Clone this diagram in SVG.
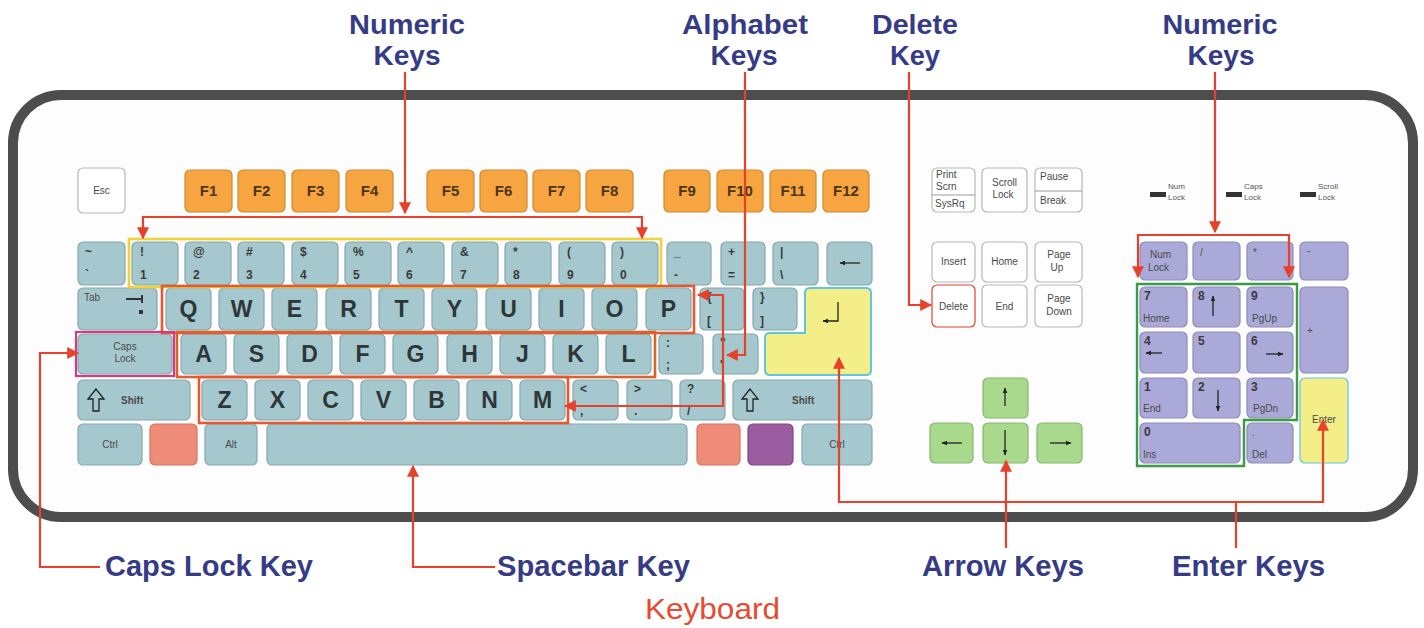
<svg xmlns="http://www.w3.org/2000/svg" width="1424" height="628" viewBox="0 0 1424 628">
<style>
text{font-family:"Liberation Sans",Arial,sans-serif}
rect.k{rx:5px;ry:5px;stroke-width:1.2}
.b{fill:#a4c8cd;stroke:#86a8ad}
.p{fill:#aba9d7;stroke:#8d8bb9}
.g{fill:#a8d98c;stroke:#86b86c}
.o{fill:#f6a540;stroke:#cf8a31}
.w{fill:#fff;stroke:#b8b8b8}
.L{font-size:23px;font-weight:700;fill:#2f3638;text-anchor:middle}
.F{font-size:15px;font-weight:700;fill:#4d3413;text-anchor:middle}
.s{font-size:10px;fill:#4a4a4a}
.sc{font-size:10px;fill:#4a4a4a;text-anchor:middle}
.y{font-size:12px;font-weight:700;fill:#3a3a3a}
.t{font-size:8px;fill:#555}
.lbl{font-size:27px;font-weight:700;fill:#363b86;text-anchor:middle}
.lbb{font-size:29px;font-weight:700;fill:#363b86}
.con{fill:none;stroke:#e5412b;stroke-width:2.2}
.ic{fill:none;stroke:#222;stroke-width:1.3}
</style>
<defs>
<marker id="ah" viewBox="0 0 10 10" refX="9" refY="5" markerUnits="userSpaceOnUse" markerWidth="12" markerHeight="12" orient="auto-start-reverse"><path d="M0,0 L10,5 L0,10 z" fill="#e5412b"/></marker>
<marker id="sa" viewBox="0 0 10 10" refX="9" refY="5" markerUnits="userSpaceOnUse" markerWidth="6" markerHeight="6" orient="auto"><path d="M0,1 L10,5 L0,9 z" fill="#222"/></marker>
</defs>
<rect width="1424" height="628" fill="#fff"/>
<g id="frame"><rect x="13" y="95" width="1400" height="422" rx="48" fill="#fdfdfe" stroke="#4d4d4d" stroke-width="10"/></g>

<g id="keys">
<g id="k-esc"><rect class="k w" x="78" y="168" width="47" height="45"/><text class="sc" x="101.5" y="194">Esc</text></g>
<g id="k-f1"><rect class="k o" x="185" y="170" width="47" height="42"/><text class="F" x="208.5" y="196">F1</text></g>
<g id="k-f2"><rect class="k o" x="238" y="170" width="47" height="42"/><text class="F" x="261.5" y="196">F2</text></g>
<g id="k-f3"><rect class="k o" x="292" y="170" width="47" height="42"/><text class="F" x="315.5" y="196">F3</text></g>
<g id="k-f4"><rect class="k o" x="346" y="170" width="47" height="42"/><text class="F" x="369.5" y="196">F4</text></g>
<g id="k-f5"><rect class="k o" x="427" y="170" width="47" height="42"/><text class="F" x="450.5" y="196">F5</text></g>
<g id="k-f6"><rect class="k o" x="480" y="170" width="47" height="42"/><text class="F" x="503.5" y="196">F6</text></g>
<g id="k-f7"><rect class="k o" x="533" y="170" width="47" height="42"/><text class="F" x="556.5" y="196">F7</text></g>
<g id="k-f8"><rect class="k o" x="586" y="170" width="47" height="42"/><text class="F" x="609.5" y="196">F8</text></g>
<g id="k-f9"><rect class="k o" x="664" y="170" width="46" height="42"/><text class="F" x="687" y="196">F9</text></g>
<g id="k-f10"><rect class="k o" x="717" y="170" width="46" height="42"/><text class="F" x="740" y="196">F10</text></g>
<g id="k-f11"><rect class="k o" x="770" y="170" width="46" height="42"/><text class="F" x="793" y="196">F11</text></g>
<g id="k-f12"><rect class="k o" x="823" y="170" width="46" height="42"/><text class="F" x="846" y="196">F12</text></g>

<g id="k-tilde"><rect class="k b" x="78" y="242" width="47" height="43"/><text class="y" x="85" y="256">~</text><text class="y" x="85" y="279">`</text></g>
<g id="k-1"><rect class="k b" x="132" y="242" width="46" height="43"/><text class="y" x="140" y="256">!</text><text class="y" x="140" y="279">1</text></g>
<g id="k-2"><rect class="k b" x="185" y="242" width="46" height="43"/><text class="y" x="193" y="256">@</text><text class="y" x="193" y="279">2</text></g>
<g id="k-3"><rect class="k b" x="238" y="242" width="46" height="43"/><text class="y" x="246" y="256">#</text><text class="y" x="246" y="279">3</text></g>
<g id="k-4"><rect class="k b" x="292" y="242" width="46" height="43"/><text class="y" x="300" y="256">$</text><text class="y" x="300" y="279">4</text></g>
<g id="k-5"><rect class="k b" x="345" y="242" width="46" height="43"/><text class="y" x="353" y="256">%</text><text class="y" x="353" y="279">5</text></g>
<g id="k-6"><rect class="k b" x="398" y="242" width="46" height="43"/><text class="y" x="406" y="256">^</text><text class="y" x="406" y="279">6</text></g>
<g id="k-7"><rect class="k b" x="452" y="242" width="46" height="43"/><text class="y" x="460" y="256">&amp;</text><text class="y" x="460" y="279">7</text></g>
<g id="k-8"><rect class="k b" x="505" y="242" width="46" height="43"/><text class="y" x="513" y="256">*</text><text class="y" x="513" y="279">8</text></g>
<g id="k-9"><rect class="k b" x="559" y="242" width="46" height="43"/><text class="y" x="567" y="256">(</text><text class="y" x="567" y="279">9</text></g>
<g id="k-0"><rect class="k b" x="612" y="242" width="46" height="43"/><text class="y" x="620" y="256">)</text><text class="y" x="620" y="279">0</text></g>
<g id="k-minus"><rect class="k b" x="667" y="242" width="44" height="43"/><text class="y" x="674" y="256">_</text><text class="y" x="674" y="279">-</text></g>
<g id="k-eq"><rect class="k b" x="721" y="242" width="44" height="43"/><text class="y" x="728" y="256">+</text><text class="y" x="728" y="279">=</text></g>
<g id="k-bsl"><rect class="k b" x="773" y="242" width="45" height="43"/><text class="y" x="780" y="256">|</text><text class="y" x="780" y="279">\</text></g>
<g id="k-bksp"><rect class="k b" x="827" y="242" width="45" height="43"/><path class="ic" d="M860,263 H840" stroke-width="1.6" marker-end="url(#sa)"/></g>

<g id="k-tab"><rect class="k b" x="78" y="288" width="79" height="42"/><text class="s" x="84" y="301">Tab</text><path d="M126,299 H142 M142,295 V303" stroke="#333" stroke-width="2" fill="none"/><rect x="139" y="310" width="4" height="4" fill="#333"/></g>
<g id="k-q"><rect class="k b" x="166" y="288" width="45" height="42"/><text class="L" x="188.5" y="317">Q</text></g>
<g id="k-w"><rect class="k b" x="219" y="288" width="45" height="42"/><text class="L" x="241.5" y="317">W</text></g>
<g id="k-e"><rect class="k b" x="272" y="288" width="45" height="42"/><text class="L" x="294.5" y="317">E</text></g>
<g id="k-r"><rect class="k b" x="326" y="288" width="45" height="42"/><text class="L" x="348.5" y="317">R</text></g>
<g id="k-t"><rect class="k b" x="379" y="288" width="45" height="42"/><text class="L" x="401.5" y="317">T</text></g>
<g id="k-y"><rect class="k b" x="432" y="288" width="45" height="42"/><text class="L" x="454.5" y="317">Y</text></g>
<g id="k-u"><rect class="k b" x="486" y="288" width="45" height="42"/><text class="L" x="508.5" y="317">U</text></g>
<g id="k-i"><rect class="k b" x="539" y="288" width="45" height="42"/><text class="L" x="561.5" y="317">I</text></g>
<g id="k-o"><rect class="k b" x="592" y="288" width="45" height="42"/><text class="L" x="614.5" y="317">O</text></g>
<g id="k-p"><rect class="k b" x="646" y="288" width="45" height="42"/><text class="L" x="668.5" y="317">P</text></g>
<g id="k-lbr"><rect class="k b" x="700" y="288" width="44" height="42"/><text class="y" x="707" y="301">{</text><text class="y" x="707" y="325">[</text></g>
<g id="k-rbr"><rect class="k b" x="753" y="288" width="44" height="42"/><text class="y" x="760" y="301">}</text><text class="y" x="760" y="325">]</text></g>
<g id="k-enter"><path d="M810,288 H866 Q871,288 871,293 V370 Q871,375 866,375 H770 Q765,375 765,370 V338 Q765,333 770,333 H805 V293 Q805,288 810,288 Z" fill="#f4ee88" stroke="#5ec6e2" stroke-width="2"/><path class="ic" d="M838,302 V321 H823" stroke-width="1.4" marker-end="url(#sa)"/></g>

<g id="k-caps"><rect class="k b" x="78" y="334" width="94" height="40"/><text class="sc" x="125" y="350">Caps</text><text class="sc" x="125" y="362">Lock</text></g>
<g id="k-a"><rect class="k b" x="181" y="334" width="45" height="40"/><text class="L" x="203.5" y="362">A</text></g>
<g id="k-s"><rect class="k b" x="234" y="334" width="45" height="40"/><text class="L" x="256.5" y="362">S</text></g>
<g id="k-d"><rect class="k b" x="287" y="334" width="45" height="40"/><text class="L" x="309.5" y="362">D</text></g>
<g id="k-f"><rect class="k b" x="340" y="334" width="45" height="40"/><text class="L" x="362.5" y="362">F</text></g>
<g id="k-g"><rect class="k b" x="393" y="334" width="45" height="40"/><text class="L" x="415.5" y="362">G</text></g>
<g id="k-h"><rect class="k b" x="447" y="334" width="45" height="40"/><text class="L" x="469.5" y="362">H</text></g>
<g id="k-j"><rect class="k b" x="500" y="334" width="45" height="40"/><text class="L" x="522.5" y="362">J</text></g>
<g id="k-k"><rect class="k b" x="553" y="334" width="45" height="40"/><text class="L" x="575.5" y="362">K</text></g>
<g id="k-l"><rect class="k b" x="606" y="334" width="45" height="40"/><text class="L" x="628.5" y="362">L</text></g>
<g id="k-semi"><rect class="k b" x="659" y="334" width="44" height="40"/><text class="y" x="666" y="347">:</text><text class="y" x="666" y="369">;</text></g>
<g id="k-quote"><rect class="k b" x="713" y="334" width="45" height="40"/><text class="y" x="720" y="347">"</text><text class="y" x="720" y="369">'</text></g>

<g id="k-lshift"><rect class="k b" x="78" y="380" width="112" height="40"/><path class="ic" d="M96,389 L88,399 L93,399 L93,411 L99,411 L99,399 L104,399 Z" stroke-width="1.6"/><text class="s" x="121" y="404" font-weight="700">Shift</text></g>
<g id="k-z"><rect class="k b" x="202" y="380" width="45" height="40"/><text class="L" x="224.5" y="408">Z</text></g>
<g id="k-x"><rect class="k b" x="255" y="380" width="45" height="40"/><text class="L" x="277.5" y="408">X</text></g>
<g id="k-c"><rect class="k b" x="308" y="380" width="45" height="40"/><text class="L" x="330.5" y="408">C</text></g>
<g id="k-v"><rect class="k b" x="361" y="380" width="45" height="40"/><text class="L" x="383.5" y="408">V</text></g>
<g id="k-b"><rect class="k b" x="414" y="380" width="45" height="40"/><text class="L" x="436.5" y="408">B</text></g>
<g id="k-n"><rect class="k b" x="467" y="380" width="45" height="40"/><text class="L" x="489.5" y="408">N</text></g>
<g id="k-m"><rect class="k b" x="520" y="380" width="45" height="40"/><text class="L" x="542.5" y="408">M</text></g>
<g id="k-comma"><rect class="k b" x="573" y="380" width="45" height="40"/><text class="y" x="580" y="393">&lt;</text><text class="y" x="580" y="415">,</text></g>
<g id="k-period"><rect class="k b" x="627" y="380" width="45" height="40"/><text class="y" x="634" y="393">&gt;</text><text class="y" x="634" y="415">.</text></g>
<g id="k-slash"><rect class="k b" x="680" y="380" width="45" height="40"/><text class="y" x="687" y="393">?</text><text class="y" x="687" y="415">/</text></g>
<g id="k-rshift"><rect class="k b" x="733" y="380" width="139" height="40"/><path class="ic" d="M750,389 L742,399 L747,399 L747,411 L753,411 L753,399 L758,399 Z" stroke-width="1.6"/><text class="s" x="792" y="404" font-weight="700">Shift</text></g>

<g id="k-lctrl"><rect class="k b" x="78" y="424" width="64" height="41"/><text class="sc" x="110" y="448">Ctrl</text></g>
<g id="k-lwin"><rect class="k" x="150" y="424" width="47" height="41" fill="#ef8b79" stroke="#d27463"/></g>
<g id="k-alt"><rect class="k b" x="205" y="424" width="52" height="41"/><text class="sc" x="231" y="448">Alt</text></g>
<g id="k-space"><rect class="k b" x="267" y="424" width="420" height="41"/></g>
<g id="k-rwin"><rect class="k" x="697" y="424" width="43" height="41" fill="#ef8b79" stroke="#d27463"/></g>
<g id="k-menu"><rect class="k" x="748" y="424" width="45" height="41" fill="#9b5d9f" stroke="#7f4883"/></g>
<g id="k-rctrl"><rect class="k b" x="802" y="424" width="70" height="41"/><text class="sc" x="837" y="448">Ctrl</text></g>

<g id="k-prt"><rect class="k w" x="932" y="168" width="43" height="44"/><text class="s" x="936" y="178">Print</text><text class="s" x="936" y="190">Scrn</text><line x1="932" y1="195" x2="975" y2="195" stroke="#999" stroke-width="1"/><text class="s" x="935" y="207">SysRq</text></g>
<g id="k-scroll"><rect class="k w" x="982" y="168" width="45" height="44"/><text class="sc" x="1004.5" y="186">Scroll</text><text class="sc" x="1003" y="198">Lock</text></g>
<g id="k-pause"><rect class="k w" x="1035" y="168" width="47" height="44"/><text class="s" x="1040" y="180">Pause</text><line x1="1035" y1="191" x2="1082" y2="191" stroke="#999" stroke-width="1"/><text class="s" x="1040" y="204">Break</text></g>
<g id="k-ins"><rect class="k w" x="932" y="242" width="43" height="40"/><text class="sc" x="953.5" y="265">Insert</text></g>
<g id="k-home"><rect class="k w" x="982" y="242" width="45" height="40"/><text class="sc" x="1004.5" y="265">Home</text></g>
<g id="k-pgup"><rect class="k w" x="1035" y="242" width="47" height="40"/><text class="sc" x="1059" y="258">Page</text><text class="sc" x="1057" y="271">Up</text></g>
<g id="k-del"><rect class="k" x="932" y="285" width="43" height="42" fill="#fff" stroke="#e5412b" stroke-width="2.2"/><text class="sc" x="953.5" y="310">Delete</text></g>
<g id="k-end"><rect class="k w" x="982" y="285" width="45" height="42"/><text class="sc" x="1004.5" y="310">End</text></g>
<g id="k-pgdn"><rect class="k w" x="1035" y="285" width="47" height="42"/><text class="sc" x="1059" y="302">Page</text><text class="sc" x="1059" y="315">Down</text></g>

<g id="k-up"><rect class="k g" x="983" y="378" width="45" height="40"/><path class="ic" d="M1005,406 V388" marker-end="url(#sa)"/></g>
<g id="k-left"><rect class="k g" x="930" y="423" width="43" height="40"/><path class="ic" d="M962,443 H942" marker-end="url(#sa)"/></g>
<g id="k-down"><rect class="k g" x="983" y="423" width="45" height="40"/><path class="ic" d="M1005,430 V455" marker-end="url(#sa)"/></g>
<g id="k-right"><rect class="k g" x="1037" y="423" width="45" height="40"/><path class="ic" d="M1050,443 H1071" marker-end="url(#sa)"/></g>

<g id="leds">
<rect x="1150" y="192" width="16" height="5" fill="#333"/><text class="t" x="1168" y="189">Num</text><text class="t" x="1168" y="200">Lock</text>
<rect x="1226" y="192" width="16" height="5" fill="#333"/><text class="t" x="1244" y="189">Caps</text><text class="t" x="1244" y="200">Lock</text>
<rect x="1300" y="192" width="16" height="5" fill="#333"/><text class="t" x="1318" y="189">Scroll</text><text class="t" x="1318" y="200">Lock</text>
</g>

<g id="k-numlock"><rect class="k p" x="1140" y="242" width="47" height="38"/><text class="s" x="1150" y="258">Num</text><text class="s" x="1148" y="271">Lock</text></g>
<g id="k-ndiv"><rect class="k p" x="1193" y="242" width="47" height="38"/><text class="s" x="1200" y="256">/</text></g>
<g id="k-nmul"><rect class="k p" x="1247" y="242" width="46" height="38"/><text class="s" x="1253" y="256">*</text></g>
<g id="k-nsub"><rect class="k p" x="1300" y="242" width="48" height="38"/><text class="s" x="1307" y="254">-</text></g>
<g id="k-n7"><rect class="k p" x="1140" y="287" width="47" height="40"/><text class="y" x="1144" y="300">7</text><text class="s" x="1143" y="322">Home</text></g>
<g id="k-n8"><rect class="k p" x="1193" y="287" width="47" height="40"/><text class="y" x="1198" y="300">8</text><path class="ic" d="M1213,316 V296" marker-end="url(#sa)"/></g>
<g id="k-n9"><rect class="k p" x="1247" y="287" width="46" height="40"/><text class="y" x="1251" y="300">9</text><text class="s" x="1252" y="322">PgUp</text></g>
<g id="k-nadd"><rect class="k p" x="1300" y="287" width="48" height="86"/><text class="s" x="1307" y="334">+</text></g>
<g id="k-n4"><rect class="k p" x="1140" y="332" width="47" height="41"/><text class="y" x="1144" y="345">4</text><path class="ic" d="M1162,353 H1146" marker-end="url(#sa)"/></g>
<g id="k-n5"><rect class="k p" x="1193" y="332" width="47" height="41"/><text class="y" x="1198" y="345">5</text></g>
<g id="k-n6"><rect class="k p" x="1247" y="332" width="46" height="41"/><text class="y" x="1251" y="345">6</text><path class="ic" d="M1266,354 H1283" marker-end="url(#sa)"/></g>
<g id="k-n1"><rect class="k p" x="1140" y="378" width="47" height="40"/><text class="y" x="1144" y="391">1</text><text class="s" x="1143" y="412">End</text></g>
<g id="k-n2"><rect class="k p" x="1193" y="378" width="47" height="40"/><text class="y" x="1198" y="391">2</text><path class="ic" d="M1218,390 V411" marker-end="url(#sa)"/></g>
<g id="k-n3"><rect class="k p" x="1247" y="378" width="46" height="40"/><text class="y" x="1251" y="391">3</text><text class="s" x="1253" y="412">PgDn</text></g>
<g id="k-nent"><rect class="k" x="1300" y="378" width="48" height="85" fill="#f4ee88" stroke="#5ec6e2" stroke-width="2.2"/><text class="sc" x="1324" y="423">Enter</text></g>
<g id="k-n0"><rect class="k p" x="1140" y="423" width="100" height="40"/><text class="y" x="1144" y="436">0</text><text class="s" x="1143" y="458">Ins</text></g>
<g id="k-ndot"><rect class="k p" x="1247" y="423" width="46" height="40"/><text class="s" x="1252" y="436">.</text><text class="s" x="1252" y="458">Del</text></g>
</g>

<g id="outlines" fill="none">
<rect x="129" y="239" width="532" height="48" stroke="#f1d338" stroke-width="2.6"/>
<rect x="162" y="286" width="532" height="47" stroke="#e35a31" stroke-width="2.6"/>
<rect x="177" y="332" width="478" height="45" stroke="#d9632e" stroke-width="2.6"/>
<rect x="199" y="377" width="369" height="46" stroke="#e35a31" stroke-width="2.6"/>
<rect x="76" y="332" width="98" height="44" stroke="#d63a7c" stroke-width="2.2"/>
<path d="M1137,284 H1297 V420 H1244 V466 H1137 Z" stroke="#3d9b45" stroke-width="2.4"/>
</g>

<g id="connectors">
<path class="con" d="M405,72 V213" marker-end="url(#ah)"/>
<path class="con" d="M143,238 V217 H642 V238" marker-start="url(#ah)" marker-end="url(#ah)"/>
<path class="con" d="M745,72 V355 H727" marker-end="url(#ah)"/>
<path class="con" d="M698,295 H723 V406 H565" marker-start="url(#ah)" marker-end="url(#ah)"/>
<path class="con" d="M909,72 V305 H931" marker-end="url(#ah)"/>
<path class="con" d="M1215,72 V232" marker-end="url(#ah)"/>
<path class="con" d="M1138,277 V235 H1289 V277" marker-start="url(#ah)" marker-end="url(#ah)"/>
<path class="con" d="M100,567 H40 V353 H78" marker-end="url(#ah)"/>
<path class="con" d="M495,567 H413 V466" marker-end="url(#ah)"/>
<path class="con" d="M1006,548 V461" marker-end="url(#ah)"/>
<path class="con" d="M1236,548 V502"/>
<path class="con" d="M839,358 V502 H1323 V420" marker-start="url(#ah)" marker-end="url(#ah)"/>
</g>

<g id="labels">
<g id="lbl-num1"><text class="lbl" x="407" y="34" textLength="116" lengthAdjust="spacingAndGlyphs">Numeric</text><text class="lbl" x="407" y="65" textLength="67" lengthAdjust="spacingAndGlyphs">Keys</text></g>
<g id="lbl-alpha"><text class="lbl" x="745" y="34" textLength="126" lengthAdjust="spacingAndGlyphs">Alphabet</text><text class="lbl" x="744" y="65" textLength="67" lengthAdjust="spacingAndGlyphs">Keys</text></g>
<g id="lbl-del"><text class="lbl" x="915" y="34" textLength="86" lengthAdjust="spacingAndGlyphs">Delete</text><text class="lbl" x="915" y="65" textLength="50" lengthAdjust="spacingAndGlyphs">Key</text></g>
<g id="lbl-num2"><text class="lbl" x="1220" y="34" textLength="115" lengthAdjust="spacingAndGlyphs">Numeric</text><text class="lbl" x="1221" y="65" textLength="67" lengthAdjust="spacingAndGlyphs">Keys</text></g>
<g id="lbl-caps"><text class="lbb" x="105" y="576" textLength="208" lengthAdjust="spacingAndGlyphs">Caps Lock Key</text></g>
<g id="lbl-space"><text class="lbb" x="497" y="576" textLength="193" lengthAdjust="spacingAndGlyphs">Spacebar Key</text></g>
<g id="lbl-arrow"><text class="lbb" x="922" y="576" textLength="162" lengthAdjust="spacingAndGlyphs">Arrow Keys</text></g>
<g id="lbl-enter"><text class="lbb" x="1172" y="576" textLength="153" lengthAdjust="spacingAndGlyphs">Enter Keys</text></g>
<g id="caption"><text x="645" y="619" font-size="29" fill="#e84a2f" textLength="135" lengthAdjust="spacingAndGlyphs">Keyboard</text></g>
</g>
</svg>
